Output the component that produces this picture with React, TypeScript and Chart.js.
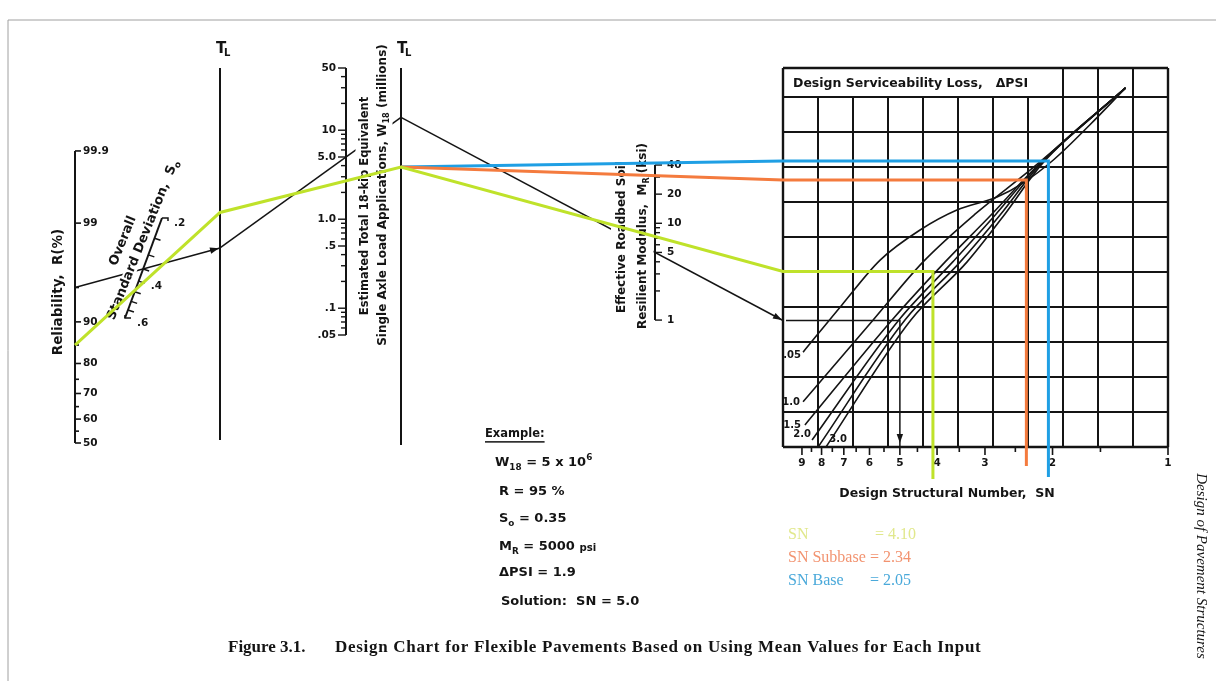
import React, { useEffect, useRef } from "react";
import { Chart, registerables } from "chart.js";

Chart.register(...registerables);

const W = 1216;
const H = 681;

// ---------------- values ----------------
const reliabilityTicks = [99.9, 99, 95, 90, 85, 80, 75, 70, 65, 60, 55, 50];
const reliabilityLabels = [99.9, 99, 90, 80, 70, 60, 50];
const soTicks = [0.2, 0.25, 0.3, 0.35, 0.4, 0.45, 0.5, 0.55, 0.6];
const soLabels = [0.2, 0.4, 0.6];
const soLabelText = [".2", ".4", ".6"];
const w18Ticks = [0.05, 0.06, 0.07, 0.08, 0.09, 0.1, 0.2, 0.3, 0.4, 0.5, 0.6, 0.7, 0.8, 0.9, 1, 2, 3, 4, 5, 6, 7, 8, 9, 10, 20, 30, 40, 50];
const w18Labels = [50, 10, 5, 1, 0.5, 0.1, 0.05];
const w18LabelText = ["50", "10", "5.0", "1.0", ".5", ".1", ".05"];
const mrTicks = [1, 2, 3, 4, 5, 6, 7, 8, 9, 10, 20, 30, 40];
const mrLabels = [40, 20, 10, 5, 1];
const snTicks = [9, 8.5, 8, 7.5, 7, 6.5, 6, 5.5, 5, 4.5, 4, 3.5, 3, 2.5, 2, 1.5, 1];
const snLabels = [9, 8, 7, 6, 5, 4, 3, 2, 1];

// design serviceability loss curves: [SN, grid rows above bottom]
const psi05 = [[8.94, 2.71], [7.08, 4.06], [5.63, 5.34], [4.43, 6.2], [3.55, 6.77], [2.79, 7.14], [2.39, 7.54], [1.99, 8.2], [1.6, 9.2], [1.29, 10.26]];
const psi10 = [[8.94, 1.29], [5.87, 3.63], [4.35, 5.29], [3.18, 6.66], [2.29, 7.91], [1.29, 10.26]];
const psi15 = [[8.84, 0.63], [5.24, 3.63], [3.81, 5.29], [2.91, 6.6], [2.22, 7.97], [1.29, 10.26]];
const psi20 = [[8.47, 0.2], [5.03, 3.63], [3.64, 5.29], [2.82, 6.63], [2.2, 8.0], [1.29, 10.26]];
const psi25 = [[8.17, 0], [4.85, 3.63], [3.48, 5.29], [2.74, 6.63], [2.16, 8.06], [1.29, 10.26]];
const psi30 = [[7.79, 0], [4.68, 3.63], [3.34, 5.29], [2.66, 6.66], [2.13, 8.09], [1.29, 10.26]];
const psiCurves = [psi05, psi10, psi15, psi20, psi25, psi30];
const psiLabelText = [".05", "1.0", "1.5", "2.0", "3.0"];
const psiLabelPos = [[801, 355], [800, 402], [801, 425], [811, 434], [847, 439]];

// worked example (black)
const exR = 95;
const exSo = 0.35;
const exW18 = 5;
const exMR = 5;
const exPSI = 1.9;
const exSN = 5.0;

// layered design (coloured overlay)
const trialR = 85;
const trialSo = 0.44;
const trialW18 = 2.7;
const layerNames = ["SN", "SN Subbase", "SN Base"];
const layerMR = [7.3, 31, 42];
const layerSN = [4.1, 2.34, 2.05];
const layerColors = ["#bfe22a", "#f47b3e", "#1f9fe4"];
const layerTextColors = ["#e1e88c", "#f29370", "#4aa9da"];
const layerDrop = [32, 19, 30];

// ---------------- layout of the nomograph ----------------
const REL = { x: 75, y50: 443, perZ: 94.5 };
const SOAX = { x0: 125, y0: 318, x1: 162, y1: 218 };
const TL1 = { x: 220, top: 68, bottom: 440 };
const WAX = { x: 346, y50: 68, perDecade: 89 };
const TL2 = { x: 401, top: 68, bottom: 445 };
const MAX = { x: 655, y40: 165, perDecade: 96.8 };
const GRID = { left: 783, bottom: 447, cell: 35, cols: 11, rows: 10, top: 68, titleCols: 8 };
const SNX = { x1: 1168, perDecade: 383.6 };

const SANS = '"DejaVu Sans", sans-serif';
const SERIF = '"Liberation Serif", "Times New Roman", serif';

type P = [number, number];

const probit = (p: number) => {
  const t = Math.sqrt(-2 * Math.log(1 - p));
  return t - (2.515517 + 0.802853 * t + 0.010328 * t * t) / (1 + 1.432788 * t + 0.189269 * t * t + 0.001308 * t * t * t);
};
const yRel = (r: number) => REL.y50 - REL.perZ * probit(r / 100);
const soT = (v: number) => Math.log(0.6 / v) / Math.log(0.6 / 0.2);
const soPt = (v: number): P => {
  const t = soT(v);
  return [SOAX.x0 + (SOAX.x1 - SOAX.x0) * t, SOAX.y0 + (SOAX.y1 - SOAX.y0) * t];
};
const yW = (v: number) => WAX.y50 + WAX.perDecade * Math.log10(50 / v);
const yM = (v: number) => MAX.y40 + MAX.perDecade * Math.log10(40 / v);
const xSN = (v: number) => SNX.x1 - SNX.perDecade * Math.log10(v);
const gX = (c: number) => GRID.left + GRID.cell * c;
const gY = (r: number) => GRID.bottom - GRID.cell * r;
const lineY = (a: P, b: P, x: number) => a[1] + ((b[1] - a[1]) * (x - a[0])) / (b[0] - a[0]);

function solve(R: number, So: number, W18: number, MR: number) {
  const A: P = [REL.x, yRel(R)];
  const B = soPt(So);
  const T1: P = [TL1.x, lineY(A, B, TL1.x)];
  const C: P = [WAX.x, yW(W18)];
  const T2: P = [TL2.x, lineY(T1, C, TL2.x)];
  const D: P = [MAX.x, yM(MR)];
  const G: P = [GRID.left, lineY(T2, D, GRID.left)];
  return { A, B, T1, C, T2, D, G };
}

type Run = { t: string; sub?: boolean; sup?: boolean; small?: boolean };
type TextItem = {
  x: number; y: number; runs: (string | Run)[]; size: number; family?: string; weight?: string;
  italic?: boolean; color?: string; align?: "left" | "center" | "right"; rot?: number; bgH?: number;
  underline?: boolean; spacing?: number;
};

function drawText(ctx: CanvasRenderingContext2D, px: number, py: number, t: TextItem) {
  const fam = t.family || SANS;
  const weight = t.weight || "bold";
  const style = t.italic ? "italic " : "";
  const mk = (s: number) => `${style}${weight} ${s}px ${fam}`;
  ctx.save();
  ctx.translate(px, py);
  if (t.rot) ctx.rotate((t.rot * Math.PI) / 180);
  (ctx as any).letterSpacing = t.spacing ? `${t.spacing}px` : "0px";
  const runs: Run[] = t.runs.map((r) => (typeof r === "string" ? { t: r } : r));
  const sizes = runs.map((r) => (r.sub || r.sup ? t.size * 0.68 : r.small ? t.size * 0.78 : t.size));
  let total = 0;
  const widths = runs.map((r, i) => {
    ctx.font = mk(sizes[i]);
    const w = ctx.measureText(r.t).width;
    total += w;
    return w;
  });
  const x0 = t.align === "center" ? -total / 2 : t.align === "right" ? -total : 0;
  if (t.bgH) {
    ctx.fillStyle = "#ffffff";
    ctx.fillRect(x0 - 3, -t.bgH / 2, total + 6, t.bgH);
  }
  ctx.fillStyle = t.color || "#141414";
  ctx.textBaseline = "middle";
  ctx.textAlign = "left";
  let x = x0;
  runs.forEach((r, i) => {
    ctx.font = mk(sizes[i]);
    const dy = r.sub ? t.size * 0.34 : r.sup ? -t.size * 0.4 : r.small ? t.size * 0.08 : 0;
    ctx.fillText(r.t, x, dy);
    x += widths[i];
  });
  if (t.underline) ctx.fillRect(x0, t.size * 0.62, total, 1.5);
  ctx.restore();
}

export default function App() {
  const ref = useRef<HTMLCanvasElement>(null);

  useEffect(() => {
    document.body.style.margin = "0";
    const canvas = ref.current!;

    const ex = solve(exR, exSo, exW18, exMR);
    const tr = solve(trialR, trialSo, trialW18, layerMR[0]);

    const datasets: any[] = [];
    const line = (pts: P[], color = "#141414", width = 1.5, colored = false, extra: any = {}) =>
      datasets.push({
        data: pts.map((p) => ({ x: p[0], y: p[1] })),
        borderColor: color, backgroundColor: color, borderWidth: width, showLine: true,
        pointRadius: 0, pointHoverRadius: 0, fill: false, tension: 0, order: colored ? 0 : 1,
        colored, borderCapStyle: "butt", borderJoinStyle: "miter", ...extra,
      });

    // coloured layer paths (drawn on top via lower order)
    layerSN.forEach((sn, i) => {
      const D: P = [MAX.x, yM(layerMR[i])];
      const G: P = [GRID.left, lineY(tr.T2, D, GRID.left)];
      const x = xSN(sn);
      const head: P[] = i === 0 ? [tr.A, tr.T1, tr.T2] : [tr.T2];
      line([...head, G, [x, G[1]], [x, GRID.bottom + layerDrop[i]]], layerColors[i], 3, true);
    });

    // page frame
    line([[8, H], [8, 20], [W, 20]], "#a0a0a0", 1);

    // reliability axis
    line([[REL.x, yRel(99.9)], [REL.x, yRel(50)]], "#141414", 2);
    reliabilityTicks.forEach((v) => {
      const major = reliabilityLabels.includes(v);
      line([[REL.x, yRel(v)], [REL.x + (major ? 6 : 4), yRel(v)]], "#141414", 1.6);
    });

    // overall standard deviation axis
    line([soPt(0.6), soPt(0.2)], "#141414", 2);
    soTicks.forEach((v) => {
      const p = soPt(v);
      if (v === 0.2) line([p, [p[0] + 6, p[1]], [p[0] + 6, p[1] + 3]], "#141414", 1.5);
      else if (v === 0.6) line([[p[0], p[1] - 3], [p[0], p[1]], [p[0] + 6, p[1]]], "#141414", 1.5);
      else line([p, [p[0] + 6, p[1] + 2]], "#141414", 1.5);
    });

    // turning lines
    line([[TL1.x, TL1.top], [TL1.x, TL1.bottom]], "#141414", 2);
    line([[TL2.x, TL2.top], [TL2.x, TL2.bottom]], "#141414", 2);

    // W18 axis
    line([[WAX.x, yW(50)], [WAX.x, yW(0.05)]], "#141414", 2);
    w18Ticks.forEach((v) => {
      const major = w18Labels.includes(v);
      line([[WAX.x, yW(v)], [WAX.x - (major ? 8 : 5), yW(v)]], "#141414", 1.4);
    });

    // MR axis
    line([[MAX.x, yM(40)], [MAX.x, yM(1)]], "#141414", 2);
    mrTicks.forEach((v) => {
      const major = mrLabels.includes(v);
      line([[MAX.x, yM(v)], [MAX.x + (major ? 7 : 5), yM(v)]], "#141414", 1.4);
    });

    // design grid
    for (let c = 0; c <= GRID.cols; c++) {
      const full = c === 0 || c === GRID.cols || c >= GRID.titleCols;
      line([[gX(c), full ? GRID.top : gY(GRID.rows)], [gX(c), GRID.bottom]], "#141414", c === 0 || c === GRID.cols ? 2.4 : 2);
    }
    for (let r = 0; r <= GRID.rows; r++) line([[gX(0), gY(r)], [gX(GRID.cols), gY(r)]], "#141414", r === 0 ? 2.4 : 2);
    line([[gX(0), GRID.top], [gX(GRID.cols), GRID.top]], "#141414", 2.4);

    // SN ticks
    snTicks.forEach((v) => {
      const major = snLabels.includes(v);
      line([[xSN(v), GRID.bottom], [xSN(v), GRID.bottom + (major ? 8 : 5)]], "#141414", 1.6);
    });

    // serviceability curves
    psiCurves.forEach((c) =>
      line(c.map((p) => [xSN(p[0]), gY(p[1])] as P), "#141414", 1.6, false, { cubicInterpolationMode: "monotone" })
    );

    // worked example path
    const exX = xSN(exSN);
    line([ex.A, ex.T1], "#141414", 1.5);
    line([ex.T1, ex.T2], "#141414", 1.5);
    line([ex.T2, ex.G], "#141414", 1.5);
    line([[ex.G[0] + 3, ex.G[1]], [exX, ex.G[1]], [exX, GRID.bottom]], "#141414", 1.5);

    const arrows: { tip: P; from: P }[] = [
      { tip: [ex.T1[0] - 1, lineY(ex.A, ex.T1, ex.T1[0] - 1)], from: ex.A },
      { tip: [ex.G[0] - 1, lineY(ex.T2, ex.G, ex.G[0] - 1)], from: ex.T2 },
      { tip: [exX, GRID.bottom - 4], from: [exX, ex.G[1]] },
    ];

    // texts
    const texts: TextItem[] = [];
    texts.push({ x: 58, y: 292, rot: -90, align: "center", size: 13.5, runs: ["Reliability,  R(%)"] });
    reliabilityLabels.forEach((v) => texts.push({ x: REL.x + 8, y: yRel(v), size: 10.5, runs: [String(v)] }));
    texts.push({ x: 123, y: 241, rot: -68, align: "center", size: 13, runs: ["Overall"], bgH: 14 });
    texts.push({ x: 143, y: 240, rot: -68, align: "center", size: 13, runs: ["Standard Deviation,  S", { t: "o", sub: true }], bgH: 12 });
    soLabels.forEach((v, i) => {
      const p = soPt(v);
      texts.push({ x: p[0] + 12, y: p[1] + 5, size: 10.5, runs: [soLabelText[i]] });
    });
    [TL1.x, TL2.x].forEach((x) => {
      texts.push({ x: x + 1, y: 49, align: "center", size: 15, runs: ["T"] });
      texts.push({ x: x + 4, y: 53, size: 10, runs: ["L"] });
    });
    w18Labels.forEach((v, i) => texts.push({ x: WAX.x - 10, y: yW(v), align: "right", size: 10.5, runs: [w18LabelText[i]] }));
    texts.push({ x: 365, y: 206, rot: -90, align: "center", size: 11.5, runs: ["Estimated Total 18-kip Equivalent"], bgH: 19 });
    texts.push({ x: 383, y: 195, rot: -90, align: "center", size: 12, runs: ["Single Axle Load Applications, W", { t: "18", sub: true }, " (millions)"], bgH: 19 });
    mrLabels.forEach((v) => texts.push({ x: MAX.x + 12, y: yM(v), size: 10.5, runs: [String(v)] }));
    texts.push({ x: 622, y: 237, rot: -90, align: "center", size: 12, runs: ["Effective Roadbed Soil"], bgH: 22 });
    texts.push({ x: 643, y: 236, rot: -90, align: "center", size: 12, runs: ["Resilient Modulus,  M", { t: "R", sub: true }, " (ksi)"], bgH: 21 });
    texts.push({ x: 793, y: 84, size: 12.5, runs: ["Design Serviceability Loss,   \u0394PSI"] });
    psiLabelText.forEach((s, i) => texts.push({ x: psiLabelPos[i][0], y: psiLabelPos[i][1], align: "right", size: 10, runs: [s] }));
    snLabels.forEach((v) => texts.push({ x: xSN(v), y: GRID.bottom + 16, align: "center", size: 10.5, runs: [String(v)] }));
    texts.push({ x: 947, y: 494, align: "center", size: 12.5, runs: ["Design Structural Number,  SN"] });

    // example block
    texts.push({ x: 485, y: 434, size: 11.5, runs: ["Example:"], underline: true });
    texts.push({ x: 495, y: 463, size: 13, runs: ["W", { t: "18", sub: true }, ` = ${exW18} x 10`, { t: "6", sup: true }] });
    texts.push({ x: 499, y: 492, size: 13, runs: [`R = ${exR} %`] });
    texts.push({ x: 499, y: 519, size: 13, runs: ["S", { t: "o", sub: true }, ` = ${exSo.toFixed(2)}`] });
    texts.push({ x: 499, y: 547, size: 13, runs: ["M", { t: "R", sub: true }, ` = ${exMR * 1000} `, { t: "psi", small: true }] });
    texts.push({ x: 499, y: 573, size: 13, runs: [`\u0394PSI = ${exPSI}`] });
    texts.push({ x: 501, y: 602, size: 13, runs: [`Solution:  SN = ${exSN.toFixed(1)}`] });

    // layer legend
    const legendY = [535, 558, 581];
    layerNames.forEach((n, i) => {
      texts.push({ x: 788, y: legendY[i], size: 16, family: SERIF, weight: "normal", color: layerTextColors[i], runs: [n] });
      texts.push({ x: i === 0 ? 875 : 870, y: legendY[i], size: 16, family: SERIF, weight: "normal", color: layerTextColors[i], runs: [`= ${layerSN[i].toFixed(2)}`] });
    });

    texts.push({ x: 228, y: 648, size: 17, family: SERIF, runs: ["Figure 3.1."] });
    texts.push({ x: 335, y: 648, size: 17, family: SERIF, runs: ["Design Chart for Flexible Pavements Based on Using Mean Values for Each Input"], spacing: 0.7 });
    texts.push({ x: 1201, y: 566, rot: 90, align: "center", size: 15, family: SERIF, weight: "normal", italic: true, runs: ["Design of Pavement Structures"] });

    let textsDone = false;
    const paintTexts = (chart: any) => {
      if (textsDone) return;
      textsDone = true;
      const c: CanvasRenderingContext2D = chart.ctx;
      const sx = (v: number) => chart.scales.x.getPixelForValue(v);
      const sy = (v: number) => chart.scales.y.getPixelForValue(v);
      arrows.forEach(({ tip, from }) => {
        const tx = sx(tip[0]), ty = sy(tip[1]);
        const ang = Math.atan2(ty - sy(from[1]), tx - sx(from[0]));
        c.save();
        c.translate(tx, ty);
        c.rotate(ang);
        c.fillStyle = "#141414";
        c.beginPath();
        c.moveTo(0, 0);
        c.lineTo(-9, -3.2);
        c.lineTo(-9, 3.2);
        c.closePath();
        c.fill();
        c.restore();
      });
      texts.forEach((t) => drawText(c, sx(t.x), sy(t.y), t));
    };

    const overlay = {
      id: "nomoOverlay",
      beforeDraw(chart: any) {
        textsDone = false;
        const c = chart.ctx;
        c.save();
        c.fillStyle = "#ffffff";
        c.fillRect(0, 0, chart.width, chart.height);
        c.restore();
      },
      beforeDatasetDraw(chart: any, args: any) {
        if (chart.data.datasets[args.index].colored) paintTexts(chart);
      },
      afterDatasetsDraw(chart: any) {
        paintTexts(chart);
      },
    };

    const chart = new Chart(canvas, {
      type: "scatter",
      data: { datasets },
      options: {
        responsive: false,
        maintainAspectRatio: false,
        animation: false,
        devicePixelRatio: 1,
        events: [],
        layout: { padding: 0 },
        scales: {
          x: { type: "linear", min: 0, max: W, display: false },
          y: { type: "linear", min: 0, max: H, reverse: true, display: false },
        },
        plugins: { legend: { display: false }, tooltip: { enabled: false } },
      },
      plugins: [overlay],
    } as any);

    return () => chart.destroy();
  }, []);

  return (
    <div style={{ width: W, height: H, overflow: "hidden", background: "#fff" }}>
      <canvas ref={ref} width={W} height={H} style={{ display: "block", width: W, height: H }} />
    </div>
  );
}
